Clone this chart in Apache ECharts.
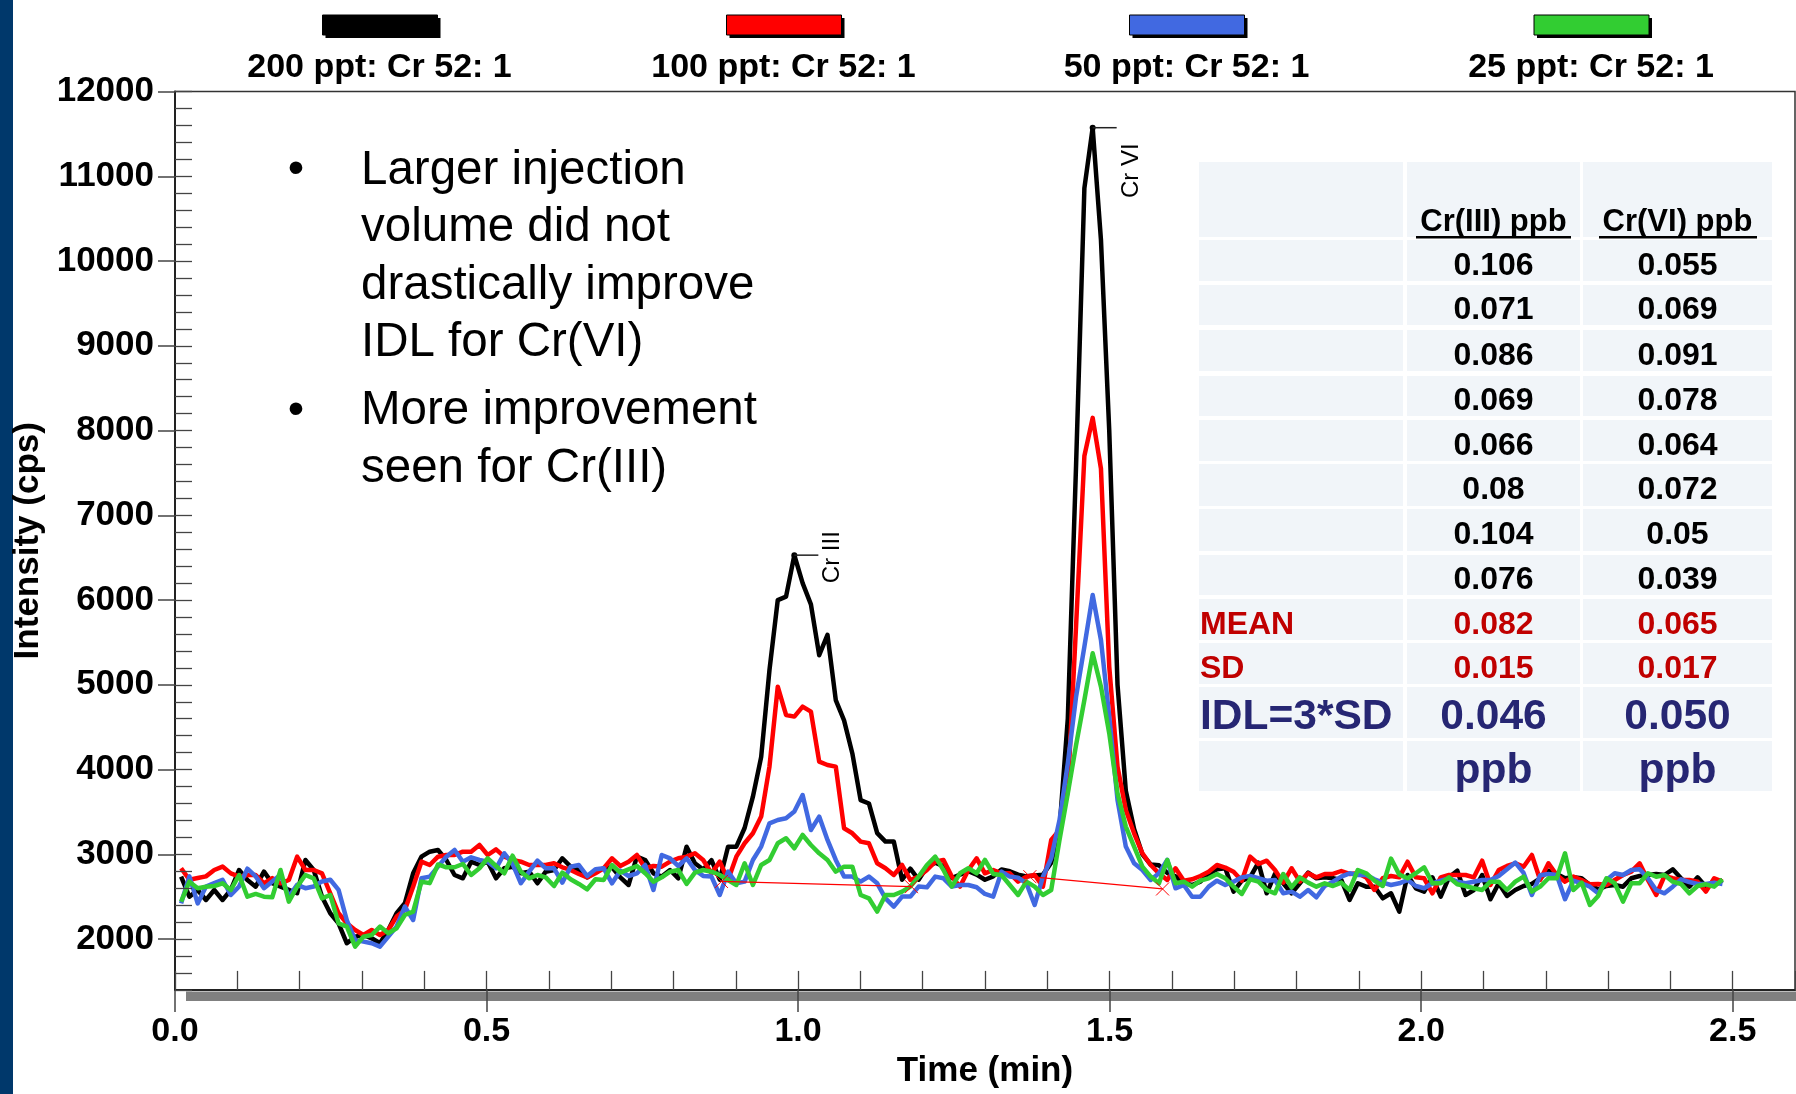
<!DOCTYPE html>
<html><head><meta charset="utf-8">
<script src="https://cdn.jsdelivr.net/npm/echarts@6/dist/echarts.min.js"></script>
<style>html,body{margin:0;padding:0;background:#fff}#c{width:1796px;height:1094px}</style>
</head><body><div id="c"></div>
<script>
// ---- data ----
const sampleStart = 0.0098, sampleStep = 0.0133; // min, instrument sampling grid
const black200 = [2736,2500,2579,2461,2579,2461,2579,2815,2697,2618,2795,2658,2618,2580,2540,2933,2815,2500,2304,2186,1950,2028,2048,2009,1950,2107,2304,2422,2776,2972,3031,3051,
2933,2756,2717,2913,2874,2913,2717,2835,2854,2776,2795,2658,2795,2815,2953,2854,2815,2728,2795,2835,2847,2728,2638,2972,2933,2776,2737,2815,2717,3090,2894,
2820,2930,2700,3090,3090,3310,3680,4150,5175,6000,6040,6530,6200,5950,5350,5590,4820,4580,4190,3640,3600,3250,3150,3150,2700,2830,2700,2850,2900,2860,2720,2760,2800,2760,2700,2740,2820,2800,2760,2740,2750,2760,2900,3300,4600,7600,10860,11574,10250,8000,5000,3750,3300,3000,2880,2870,2780,2740,
2658,2638,2677,2768,2823,2835,2560,2689,2728,2902,2540,2768,2658,2540,2658,2784,2717,2728,2717,2697,2461,2658,2618,2618,2481,2540,2323,2756,2599,2560,2728,2500,2728,
2807,2520,2579,2756,2469,2658,2508,2579,2626,2650,2717,2807,2768,2717,2728,2717,2638,2587,2626,2638,2618,2717,2744,2756,2768,2756,2823,2717,2618,2728,2618,2638,2697];
const red100 = [2835,2700,2720,2740,2815,2855,2775,2736,2756,2756,2658,2720,2658,2697,2972,2815,2815,2776,2540,2304,2186,2107,2048,2107,2048,2107,2265,2343,2618,2913,2874,2972,
2992,2992,3031,3031,3110,2992,3059,2972,2933,2913,2874,2874,2874,2894,2847,2815,2768,2728,2776,2835,2953,2862,2913,2992,2835,2862,2854,2913,2953,2972,3012,
2933,2776,2913,2697,2972,3130,3248,3445,4035,4978,4644,4625,4743,4684,4094,4054,4035,3307,3248,3150,3130,2894,2835,2756,2874,2697,2737,2815,2913,2933,2737,2619,2815,2953,2776,2815,2776,2776,2678,2737,2756,2619,3169,3287,3750,5700,7700,8150,7550,5215,4035,3523,3248,3012,2874,2776,2697,2835,
2689,2705,2744,2795,2874,2843,2795,2689,2972,2886,2925,2815,2666,2835,2677,2776,2728,2768,2768,2803,2768,2776,2728,2579,2717,2744,2728,2913,2728,2717,2540,2728,2756,
2756,2756,2728,2925,2638,2815,2862,2894,2854,2992,2697,2894,2756,2677,2737,2697,2646,2650,2638,2697,2756,2795,2894,2697,2520,2744,2717,2697,2697,2677,2560,2717,2677];
const blue50 = [2420,2740,2420,2620,2660,2700,2520,2620,2830,2740,2600,2680,2760,2500,2640,2600,2620,2680,2700,2580,2220,1990,1970,1950,1910,2028,2147,2382,2225,2717,2737,2854,
2972,3051,2913,2964,2933,2913,2835,3012,2886,2658,2795,2925,2835,2835,2666,2854,2874,2744,2823,2835,2658,2807,2744,2776,2874,2579,2992,2953,2862,2953,2815,
2745,2737,2520,2795,2658,2678,2933,3091,3366,3405,3425,3504,3700,3287,3445,3169,2933,2737,2737,2678,2737,2658,2481,2383,2501,2501,2619,2611,2737,2717,2619,2638,2638,2611,2532,2501,2795,2737,2725,2658,2402,2737,2953,3405,4074,4861,5451,6060,5529,4625,3641,3091,2894,2815,2697,2776,2933,2599,
2638,2500,2500,2618,2689,2638,2677,2728,2744,2717,2689,2697,2540,2560,2500,2579,2493,2626,2677,2737,2776,2756,2756,2705,2666,2638,2658,2697,2626,2599,2658,2689,2717,
2677,2658,2677,2697,2697,2744,2823,2902,2780,2520,2752,2768,2756,2470,2689,2658,2618,2540,2697,2776,2756,2815,2823,2717,2579,2540,2618,2705,2673,2650,2650,2666,2650];
const green25 = [2441,2677,2599,2618,2626,2658,2579,2756,2500,2532,2500,2493,2815,2441,2618,2756,2717,2480,2520,2186,2147,1910,2028,2048,2147,2068,2127,2284,2323,2677,2660,2880,
2847,2847,2886,2756,2835,2953,2862,2776,2984,2795,2717,2756,2728,2626,2784,2705,2650,2587,2705,2697,2874,2784,2823,2862,2776,2677,2728,2795,2815,2650,2784,
2815,2795,2756,2697,2638,2894,2638,2874,2933,3130,3189,3071,3228,3110,3012,2933,2795,2854,2854,2520,2481,2324,2520,2520,2560,2619,2737,2874,2972,2815,2619,2776,2835,2776,2933,2768,2756,2638,2520,2678,2619,2520,2579,3169,3720,4290,4821,5372,4978,4428,3720,3327,3091,2854,2737,2658,2933,2658,
2677,2618,2689,2717,2768,2717,2618,2532,2705,2677,2579,2540,2768,2611,2728,2666,2618,2658,2626,2666,2579,2815,2776,2689,2626,2950,2760,2717,2776,2847,2658,2658,2728,
2646,2626,2599,2579,2677,2677,2579,2677,2736,2560,2618,2717,2717,3012,2579,2666,2402,2508,2717,2658,2441,2658,2658,2776,2736,2756,2677,2650,2540,2626,2646,2618,2705];
const seriesNames = ['200 ppt: Cr 52: 1','100 ppt: Cr 52: 1','50 ppt: Cr 52: 1','25 ppt: Cr 52: 1'];
const seriesColors = ['#000000','#FF0000','#4169E1','#32CD32'];
const xTicks = [0, 0.5, 1.0, 1.5, 2.0, 2.5];
const yTicks = [2000,3000,4000,5000,6000,7000,8000,9000,10000,11000,12000];
const crIIIBaseline = [[0.877,2680],[1.182,2618]];
const crVIBaseline = [[1.372,2736],[1.585,2591]];
const peakLabels = [{name:'Cr III', index:74, dx:38, dy:2}, {name:'Cr VI', index:110, dx:39, dy:43}];
const tableHeader = ['', 'Cr(III) ppb', 'Cr(VI) ppb'];
const cr3Runs = ['0.106','0.071','0.086','0.069','0.066','0.08','0.104','0.076'];
const cr6Runs = ['0.055','0.069','0.091','0.078','0.064','0.072','0.05','0.039'];
const meanRow = ['MEAN','0.082','0.065'];
const sdRow = ['SD','0.015','0.017'];
const idlRow = ['IDL=3*SD','0.046','0.050'];
const unitRow = ['', 'ppb', 'ppb'];
const bullets = [['Larger injection','volume did not','drastically improve','IDL for Cr(VI)'],['More improvement','seen for Cr(III)']];

// ---- build ----
const FF = '"Liberation Sans", Arial, sans-serif';
const timeAt = i => +(sampleStart + i * sampleStep).toFixed(4);
const allSeries = [black200, red100, blue50, green25];
const chart = echarts.init(document.getElementById('c'), null, {renderer:'canvas'});

const lineSeries = allSeries.map((vals, k) => ({
  name: seriesNames[k], type: 'line', xAxisIndex: 0, yAxisIndex: 0,
  data: vals.map((v, i) => [timeAt(i), v]),
  showSymbol: false, symbol: 'none', z: 3 + k,
  lineStyle: {color: seriesColors[k], width: 4.5, join: 'round'},
  itemStyle: {color: seriesColors[k]},
  markPoint: k === 0 ? {
    silent: true, label: {show: false},
    data: peakLabels.flatMap(p => [
      {coord: [timeAt(p.index), black200[p.index]], symbol: 'circle', symbolSize: 6, itemStyle: {color: '#000'}},
      {coord: [timeAt(p.index), black200[p.index]], symbol: 'rect', symbolSize: [24, 1.5], symbolOffset: [12, 0], itemStyle: {color: '#222'}}
    ])
  } : undefined
}));
const baseSeries = [crIIIBaseline, crVIBaseline].map(d => ({
  type: 'line', data: d, z: 9, symbol: 'path://M0,0L10,10M10,0L0,10', symbolSize: 13, showSymbol: true,
  lineStyle: {color: '#FF0000', width: 1.2},
  itemStyle: {color: 'rgba(0,0,0,0)', borderColor: '#FF0000', borderWidth: 1}
}));

const axisFont = {fontFamily: FF, fontWeight: 'bold', fontSize: 34, color: '#000'};

const option = {
  animation: false,
  backgroundColor: '#fff',
  grid: {left: 175, right: 1, top: 91.6, bottom: 104.1, show: true, borderColor: '#333', borderWidth: 1.5, containLabel: false, outerBoundsMode: 'none'},
  xAxis: [
    {type: 'value', min: 0, max: 2.6, interval: 0.1, position: 'bottom', z: 10,
     axisLine: {show: true, onZero: false, lineStyle: {color: '#222', width: 2}},
     axisTick: {show: true, inside: true, length: 19, lineStyle: {color: '#444', width: 1.3}},
     axisLabel: {show: false}, splitLine: {show: false}},
    {type: 'value', min: 0, max: 2.6, position: 'bottom', z: 10,
     axisLine: {show: false, onZero: false},
     axisTick: {show: true, inside: false, length: 22, customValues: xTicks, lineStyle: {color: '#444', width: 1.5}},
     axisLabel: Object.assign({show: true, customValues: xTicks, margin: 25, formatter: v => v.toFixed(1)}, axisFont),
     splitLine: {show: false},
     name: 'Time (min)', nameLocation: 'middle', nameGap: 64,
     nameTextStyle: {fontFamily: FF, fontWeight: 'bold', fontSize: 35, color: '#000'}}
  ],
  yAxis: [
    {type: 'value', min: 1400, max: 12000, interval: 200, position: 'left', z: 10,
     axisLine: {show: true, onZero: false, lineStyle: {color: '#222', width: 2}},
     axisTick: {show: true, inside: true, length: 17, lineStyle: {color: '#444', width: 1.3}},
     axisLabel: {show: false}, splitLine: {show: false}},
    {type: 'value', min: 1400, max: 12000, position: 'left', z: 10,
     axisLine: {show: false, onZero: false},
     axisTick: {show: true, inside: false, length: 17, customValues: yTicks, lineStyle: {color: '#444', width: 1.5}},
     axisLabel: Object.assign({show: true, customValues: yTicks, margin: 21, formatter: v => String(v)}, axisFont, {fontSize: 35}),
     splitLine: {show: false},
     name: 'Intensity (cps)', nameLocation: 'middle', nameGap: 120, nameRotate: 90,
     nameTextStyle: {fontFamily: FF, fontWeight: 'bold', fontSize: 35, color: '#000'}}
  ],
  series: lineSeries.concat(baseSeries)
};
chart.setOption(option);

// ---- graphics (frame decorations, legend, notes, table, peak names) ----
const g = [];
g.push({type: 'rect', id: 'sidebar', shape: {x: 0, y: 0, width: 13, height: 1094}, style: {fill: '#00386B'}, z: 0});
g.push({type: 'rect', id: 'shadowbar', shape: {x: 186, y: 991.5, width: 1610, height: 9.5}, style: {fill: '#808080'}, z: 0});

const legendCx = [379.5, 783.5, 1186.5, 1591];
seriesNames.forEach((n, k) => {
  g.push({type: 'rect', id: 'lgs' + k, shape: {x: legendCx[k] - 57 + 3, y: 18, width: 115, height: 20}, style: {fill: '#000'}, z: 5});
  g.push({type: 'rect', id: 'lgr' + k, shape: {x: legendCx[k] - 57, y: 15, width: 115, height: 20}, style: {fill: seriesColors[k], stroke: '#000', lineWidth: 1}, z: 6});
  g.push({type: 'text', id: 'lgt' + k, x: legendCx[k], y: 68, style: {text: n, fill: '#000', font: 'bold 34px ' + FF, textAlign: 'center', textVerticalAlign: 'middle'}, z: 6});
});

// bullet notes
const bulletTop = [170.5, 411];
bullets.forEach((lines, b) => {
  g.push({type: 'text', id: 'bd' + b, x: 296, y: bulletTop[b], style: {text: '\u2022', fill: '#000', font: '47px ' + FF, textAlign: 'center', textVerticalAlign: 'middle'}, z: 6});
  lines.forEach((ln, j) => {
    g.push({type: 'text', id: 'bt' + b + '_' + j, x: 361, y: bulletTop[b] + j * 57.6, style: {text: ln, fill: '#000', font: '47.5px ' + FF, textAlign: 'left', textVerticalAlign: 'middle'}, z: 6});
  });
});

// table
const colL = [1199, 1407, 1583], colW = [204, 173, 189];
const colC = [1200, 1493.5, 1677.5];
const rowTop = [162, 240, 285, 330, 376, 420, 464, 509, 555, 599, 643, 687, 741];
const rowH = [75, 41, 40, 41, 40, 41, 42, 42, 40, 41, 41, 51, 50];
const rows = [tableHeader];
cr3Runs.forEach((v, i) => rows.push(['', v, cr6Runs[i]]));
rows.push(meanRow, sdRow, idlRow, unitRow);
rows.forEach((r, ri) => {
  for (let c = 0; c < 3; c++) {
    g.push({type: 'rect', id: 'tc' + ri + '_' + c, shape: {x: colL[c], y: rowTop[ri], width: colW[c], height: rowH[ri]}, style: {fill: '#F1F5F9'}, z: 1});
    if (!r[c]) continue;
    let color = '#000', size = 32, cy = rowTop[ri] + rowH[ri] / 2 + 5.5;
    if (ri === 0) { cy = 222; size = 31; }
    if (ri === 9 || ri === 10) color = '#C00000';
    if (ri === 11) { color = '#262673'; size = 42.5; cy = 717; }
    if (ri === 12) { color = '#262673'; size = 42.5; cy = 771; }
    g.push({type: 'text', id: 'tt' + ri + '_' + c, x: colC[c], y: cy,
      style: {text: r[c], fill: color, font: 'bold ' + size + 'px ' + FF, textAlign: c === 0 ? 'left' : 'center', textVerticalAlign: 'middle'}, z: 6});
  }
});
g.push({type: 'rect', id: 'ul1', shape: {x: 1416, y: 236, width: 155, height: 2.5}, style: {fill: '#000'}, z: 6});
g.push({type: 'rect', id: 'ul2', shape: {x: 1599, y: 236, width: 158, height: 2.5}, style: {fill: '#000'}, z: 6});

// peak names, positioned through the chart's own scales
peakLabels.forEach((p, k) => {
  const pt = chart.convertToPixel({xAxisIndex: 0, yAxisIndex: 0}, [timeAt(p.index), black200[p.index]]);
  g.push({type: 'text', id: 'pk' + k, x: pt[0] + p.dx, y: pt[1] + p.dy, rotation: Math.PI / 2,
    style: {text: p.name, fill: '#000', font: '24px ' + FF, textAlign: 'center', textVerticalAlign: 'middle'}, z: 6});
});

chart.setOption({graphic: {elements: g}});
</script>
</body></html>
